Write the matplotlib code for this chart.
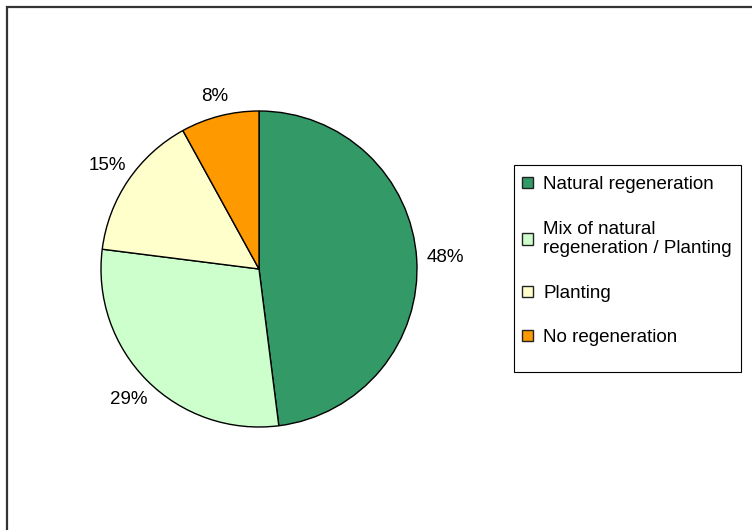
import matplotlib
matplotlib.use("Agg")
import matplotlib.pyplot as plt
import numpy as np
from matplotlib.patches import Rectangle, Patch

# data
categories = ["Natural regeneration", "Mix of natural\nregeneration / Planting",
              "Planting", "No regeneration"]
shares = [48, 29, 15, 8]
colors = ["#339966", "#CCFFCC", "#FFFFCC", "#FF9900"]
label_dist = [1.18, 1.17, 1.16, 1.13]   # how far out each % label sits

plt.rcParams['font.family'] = ['Liberation Sans', 'DejaVu Sans']

W, H = 752, 530
fig = plt.figure(figsize=(W / 100, H / 100), dpi=100)
ax = fig.add_axes([0, 0, 1, 1])
ax.set_xlim(0, W)
ax.set_ylim(0, H)
ax.set_aspect('equal')
ax.axis('off')

# outer frame (only top and left visible in the original)
ax.add_patch(Rectangle((6.5, -20), W + 40, H - 7 + 20, fill=False,
                       edgecolor="#333333", linewidth=1.6, clip_on=False))

cx, cy, r = 259, H - 269, 158
wedges, _ = ax.pie(shares, colors=colors, startangle=90, counterclock=False,
                   center=(cx, cy), radius=r,
                   wedgeprops=dict(edgecolor='black', linewidth=1.0))
ax.set_xlim(0, W)
ax.set_ylim(0, H)

for w, v, d in zip(wedges, shares, label_dist):
    mid = np.deg2rad((w.theta1 + w.theta2) / 2)
    ax.text(cx + d * r * np.cos(mid), cy + d * r * np.sin(mid), f"{v}%",
            ha='center', va='center', fontsize=13.5)

# legend box drawn by hand so its size matches the original
ax.add_patch(Rectangle((514, H - 372), 741 - 514, 372 - 165, fill=False,
                       edgecolor='black', linewidth=0.8))
handles = [Patch(facecolor=c, edgecolor='#222222', linewidth=1.0) for c in colors]
leg = ax.legend(handles, categories, loc='upper left',
                bbox_to_anchor=(514 / W, 1 - 168 / H),
                bbox_transform=fig.transFigure,
                fontsize=13.5, frameon=False,
                handlelength=0.55, handleheight=0.55,
                handletextpad=0.55, labelspacing=1.46, borderpad=0.45,
                borderaxespad=0)

fig.savefig("out.png", dpi=100)
